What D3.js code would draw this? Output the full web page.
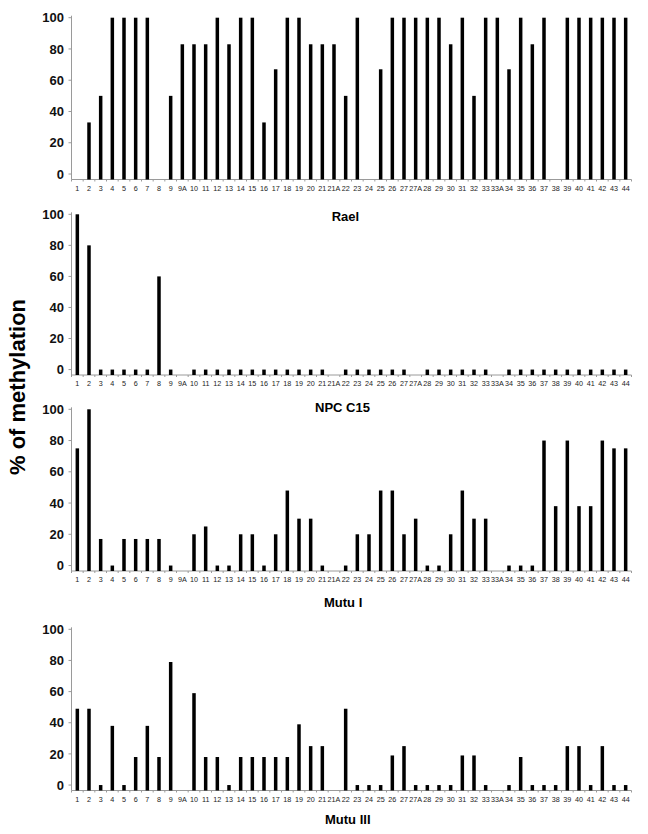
<!DOCTYPE html>
<html><head><meta charset="utf-8">
<script src="https://cdn.jsdelivr.net/npm/d3@7"></script>
<style>body{margin:0;background:#fff}svg{display:block}</style>
</head><body>
<script>
const categories = ["1","2","3","4","5","6","7","8","9","9A","10","11","12","13","14","15","16","17","18","19","20","21","21A","22","23","24","25","26","27","27A","28","29","30","31","32","33","33A","34","35","36","37","38","39","40","41","42","43","44"];
const yTicks = [0,20,40,60,80,100];

const seriesTop = [null,33,50,100,100,100,100,null,50,83,83,83,100,83,100,100,33,67,100,100,83,83,83,50,100,null,67,100,100,100,100,100,83,100,50,100,100,67,100,83,100,null,100,100,100,100,100,100];
const seriesRael = [100,80,0,0,0,0,0,60,0,null,0,0,0,0,0,0,0,0,0,0,0,0,null,0,0,0,0,0,0,null,0,0,0,0,0,0,null,0,0,0,0,0,0,0,0,0,0,0];
const seriesNPC = [75,100,17,0,17,17,17,17,0,null,20,25,0,0,20,20,0,20,48,30,30,0,null,0,20,20,48,48,20,30,0,0,20,48,30,30,null,0,0,0,80,38,80,38,38,80,75,75];
const seriesMutuIII = [49,49,0,38,0,18,38,18,79,null,59,18,18,0,18,18,18,18,18,39,25,25,null,49,0,0,0,19,25,0,0,0,0,19,19,0,null,0,18,0,0,0,25,25,0,25,0,0];

const panelTitles = ["Rael","NPC C15","Mutu I","Mutu III"];
const yLabel = "% of methylation";

const W = 648, H = 834;
const svg = d3.select("body").append("svg").attr("width", W).attr("height", H);
const font = "'Liberation Sans', Arial, sans-serif";

const panels = [
  {data: seriesTop, top: 17.7, bottom: 179.5},
  {data: seriesRael, top: 214.3, bottom: 375},
  {data: seriesNPC, top: 409.3, bottom: 571},
  {data: seriesMutuIII, top: 629.3, bottom: 790.5}
];

const x = d3.scaleBand().domain(categories).range([71.5, 631.5]).padding(0);
const barW = 3.5;

panels.forEach(p => {
  const y = d3.scaleLinear().domain([-3.5, 100]).range([p.bottom, p.top]);
  const g = svg.append("g");
  // y axis line
  g.append("line").attr("x1", 71.5).attr("x2", 71.5).attr("y1", p.top - 2).attr("y2", p.bottom)
    .attr("stroke", "#9a9a9a").attr("stroke-width", 1);
  // y ticks
  g.selectAll(".yt").data(yTicks).enter().append("line")
    .attr("x1", 68.5).attr("x2", 71.5).attr("y1", d => y(d)).attr("y2", d => y(d))
    .attr("stroke", "#9a9a9a").attr("stroke-width", 1);
  g.selectAll(".yl").data(yTicks).enter().append("text")
    .attr("x", 64).attr("y", d => y(d)).attr("dy", "0.36em")
    .attr("text-anchor", "end").attr("font-family", font).attr("font-weight", "bold")
    .attr("font-size", 13).attr("fill", "#111").text(d => d);
  // x axis line
  g.append("line").attr("x1", 71.5).attr("x2", 631.5).attr("y1", p.bottom).attr("y2", p.bottom)
    .attr("stroke", "#9a9a9a").attr("stroke-width", 1);
  // x ticks at category boundaries
  const bounds = categories.map(c => x(c)).concat([x.range()[1]]);
  g.selectAll(".xt").data(bounds).enter().append("line")
    .attr("x1", d => d).attr("x2", d => d).attr("y1", p.bottom).attr("y2", p.bottom + 2)
    .attr("stroke", "#9a9a9a").attr("stroke-width", 1);
  // bars
  g.selectAll(".bar").data(categories.map((c, i) => ({c, v: p.data[i]})).filter(d => d.v !== null))
    .enter().append("rect")
    .attr("x", d => x(d.c) + x.bandwidth() / 2 - barW / 2)
    .attr("width", barW)
    .attr("y", d => y(d.v))
    .attr("height", d => p.bottom - y(d.v))
    .attr("fill", "#000");
  // x labels
  g.selectAll(".xl").data(categories).enter().append("text")
    .attr("x", d => x(d) + x.bandwidth() / 2).attr("y", p.bottom + 8.5).attr("dy", "0.35em")
    .attr("text-anchor", "middle").attr("font-family", font).attr("font-size", 7.2)
    .attr("fill", "#222").text(d => d);
});

// panel titles
const titlePos = [[331.7, 221], [315, 411.5], [324, 606.5], [325, 824]];
panelTitles.forEach((t, i) => {
  svg.append("text").attr("x", titlePos[i][0]).attr("y", titlePos[i][1])
    .attr("font-family", font).attr("font-weight", "bold").attr("font-size", 13)
    .attr("fill", "#000").text(t);
});

// y axis label
svg.append("text").attr("transform", "translate(25,387) rotate(-90)")
  .attr("text-anchor", "middle").attr("font-family", font).attr("font-weight", "bold")
  .attr("font-size", 22).attr("fill", "#000").text(yLabel);
</script>
</body></html>
